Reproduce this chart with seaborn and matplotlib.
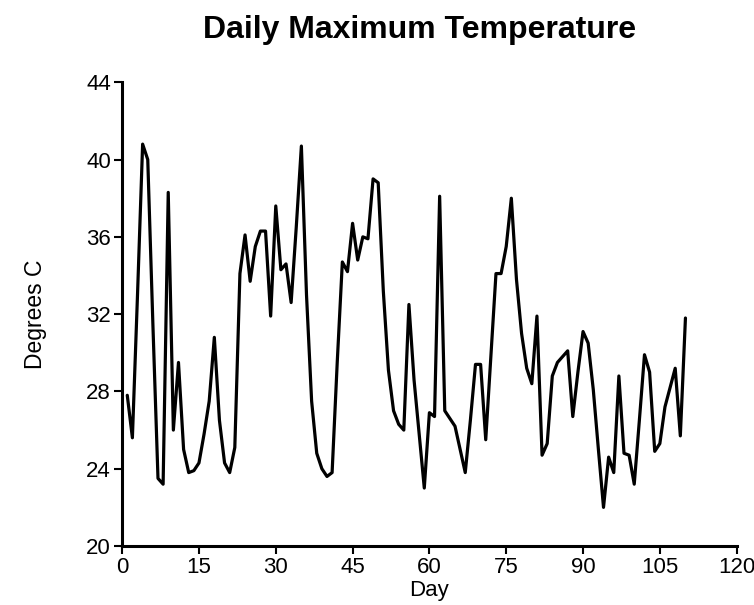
import matplotlib
matplotlib.use("Agg")
import matplotlib.pyplot as plt
import seaborn as sns
import pandas as pd

# Daily maximum temperature readings (degrees C), one per day starting at day 1
temps = [
    27.8, 25.6, 33.0, 40.8, 40.0, 31.5, 23.5, 23.2, 38.3, 26.0,
    29.5, 25.0, 23.8, 23.9, 24.3, 25.8, 27.5, 30.8, 26.5, 24.3,
    23.8, 25.1, 34.1, 36.1, 33.7, 35.5, 36.3, 36.3, 31.9, 37.6,
    34.3, 34.6, 32.6, 36.5, 40.7, 33.0, 27.5, 24.8, 24.0, 23.6,
    23.8, 29.5, 34.7, 34.2, 36.7, 34.8, 36.0, 35.9, 39.0, 38.8,
    33.2, 29.1, 27.0, 26.3, 26.0, 32.5, 28.6, 25.8, 23.0, 26.9,
    26.7, 38.1, 27.0, 26.6, 26.2, 25.0, 23.8, 26.5, 29.4, 29.4,
    25.5, 29.8, 34.1, 34.1, 35.5, 38.0, 33.8, 31.0, 29.2, 28.4,
    31.9, 24.7, 25.3, 28.8, 29.5, 29.8, 30.1, 26.7, 29.0, 31.1,
    30.5, 28.1, 25.0, 22.0, 24.6, 23.8, 28.8, 24.8, 24.7, 23.2,
    26.5, 29.9, 29.0, 24.9, 25.3, 27.2, 28.2, 29.2, 25.7, 31.8,
]
days = list(range(1, len(temps) + 1))

x_ticks = [0, 15, 30, 45, 60, 75, 90, 105, 120]
y_ticks = [20, 24, 28, 32, 36, 40, 44]

df = pd.DataFrame({"Day": days, "Temp": temps})

sns.set_style("ticks")
plt.rcParams["font.family"] = ["Liberation Sans", "DejaVu Sans"]
plt.rcParams["text.color"] = "black"
plt.rcParams["axes.labelcolor"] = "black"

fig = plt.figure(figsize=(7.54, 6.05), dpi=100)
ax = fig.add_axes([0.162, 0.0975, 0.815, 0.7665])

sns.lineplot(data=df, x="Day", y="Temp", ax=ax, color="black", linewidth=2.3)

ax.set_xlim(0, 120)
ax.set_ylim(20, 44)
ax.set_xticks(x_ticks)
ax.set_yticks(y_ticks)
ax.tick_params(axis="both", labelsize=16, length=6, width=1.5, color="black",
               labelcolor="black", pad=2)
for side in ("top", "right"):
    ax.spines[side].set_visible(False)
for side in ("left", "bottom"):
    ax.spines[side].set_linewidth(2.2)
    ax.spines[side].set_color("black")

ax.set_xlabel("Day", fontsize=16, labelpad=1)
ax.set_ylabel("Degrees C", fontsize=16.5, labelpad=28)
fig.suptitle("Daily Maximum Temperature", fontsize=23, x=0.557, y=0.975,
             fontweight="bold")

fig.savefig("out.png", dpi=100, facecolor="white")
